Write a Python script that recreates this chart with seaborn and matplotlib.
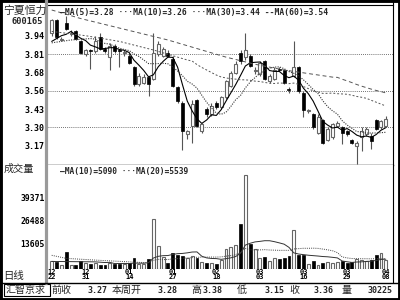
import numpy as np
import pandas as pd
import matplotlib
matplotlib.use("Agg")
import matplotlib.pyplot as plt
import seaborn as sns
from matplotlib.lines import Line2D
from matplotlib.patches import Rectangle

# ---------------- data ----------------
opens = [3.96, 4.05, 3.91, 4.03, 3.95, 3.97, 3.90, 3.81, 3.84, 3.83,
         3.93, 3.85, 3.79, 3.87, 3.84, 3.82, 3.80, 3.72, 3.60, 3.61,
         3.65, 3.64, 3.81, 3.80, 3.82, 3.78, 3.58, 3.47, 3.25, 3.31,
         3.49, 3.27, 3.43, 3.39, 3.47, 3.44, 3.51, 3.59, 3.68, 3.82,
         3.79, 3.80, 3.69, 3.67, 3.76, 3.62, 3.64, 3.71, 3.70, 3.57,
         3.66, 3.72, 3.54, 3.41, 3.39, 3.26, 3.35, 3.21, 3.23, 3.31,
         3.30, 3.27, 3.21, 3.17, 3.23, 3.25, 3.24, 3.35, 3.30, 3.31]
highs = [4.06, 4.06, 3.93, 4.08, 3.98, 3.98, 3.91, 3.85, 3.85, 3.94,
         3.96, 3.86, 3.89, 3.88, 3.85, 3.84, 3.82, 3.73, 3.68, 3.67,
         3.66, 3.96, 3.90, 3.86, 3.84, 3.80, 3.59, 3.48, 3.28, 3.49,
         3.50, 3.33, 3.44, 3.47, 3.48, 3.52, 3.63, 3.69, 3.76, 3.84,
         3.96, 3.81, 3.72, 3.76, 3.77, 3.67, 3.72, 3.72, 3.71, 3.58,
         3.90, 3.73, 3.55, 3.43, 3.40, 3.39, 3.36, 3.30, 3.33, 3.34,
         3.31, 3.28, 3.22, 3.20, 3.30, 3.30, 3.26, 3.36, 3.35, 3.38]
lows = [3.94, 3.92, 3.90, 3.98, 3.94, 3.91, 3.81, 3.80, 3.71, 3.82,
        3.84, 3.82, 3.70, 3.82, 3.72, 3.80, 3.74, 3.59, 3.59, 3.60,
        3.52, 3.63, 3.80, 3.79, 3.79, 3.58, 3.47, 3.14, 3.22, 3.19,
        3.30, 3.26, 3.37, 3.38, 3.43, 3.43, 3.50, 3.58, 3.67, 3.74,
        3.77, 3.72, 3.67, 3.66, 3.63, 3.61, 3.63, 3.69, 3.60, 3.54,
        3.65, 3.54, 3.37, 3.40, 3.29, 3.25, 3.18, 3.20, 3.22, 3.30,
        3.18, 3.24, 3.18, 3.04, 3.13, 3.24, 3.15, 3.28, 3.29, 3.30]
closes = [4.05, 3.93, 3.92, 3.99, 3.96, 3.92, 3.82, 3.84, 3.83, 3.90,
          3.85, 3.83, 3.87, 3.83, 3.835, 3.825, 3.75, 3.60, 3.66, 3.65,
          3.60, 3.82, 3.88, 3.85, 3.80, 3.59, 3.48, 3.27, 3.27, 3.46,
          3.31, 3.32, 3.39, 3.45, 3.44, 3.51, 3.62, 3.68, 3.74, 3.76,
          3.84, 3.73, 3.70, 3.75, 3.64, 3.66, 3.70, 3.70, 3.61, 3.56,
          3.72, 3.55, 3.42, 3.42, 3.30, 3.37, 3.19, 3.29, 3.32, 3.33,
          3.26, 3.25, 3.19, 3.19, 3.27, 3.29, 3.20, 3.29, 3.34, 3.36]
volumes = [4055, 3686, 2212, 9216, 2212, 2212, 4055, 3133, 2765, 3133,
           2212, 1843, 3133, 2580, 2580, 2580, 3133, 5898, 2580, 2580,
           5161, 27650, 12536, 6267, 3318, 8663, 7373, 7189, 5898, 7005,
           5898, 3686, 3318, 3133, 2580, 4608, 11060, 11797, 13272, 24514,
           51610, 13824, 10691, 6083, 6267, 4424, 5898, 5161, 6083, 6820,
           21197, 7373, 7373, 2765, 4055, 2212, 3133, 3686, 3133, 3686,
           4055, 3133, 3686, 5161, 4977, 4424, 4608, 7742, 8663, 4977]

ma5_head_x, ma5_head = [0, 1, 2, 3], [3.90, 3.92, 3.94, 3.95]
ma10_head_x, ma10_head = [0, 4, 8], [3.89, 3.91, 3.92]
ma30_head_x, ma30_head = [0, 7, 14, 21, 28], [3.97, 3.94, 3.90, 3.84, 3.77]
ma60_head_x = [0, 6, 12, 18, 24, 30, 36, 42, 48, 54, 58]
ma60_head = [4.12, 4.06, 4.01, 3.96, 3.91, 3.85, 3.79, 3.74, 3.70, 3.67, 3.65]
vma10_head_x, vma10_head = [0, 4, 8], [3900, 3800, 3700]
vma20_head_x, vma20_head = [0, 3, 10, 18], [7300, 5600, 4500, 3400]

date_idx = [0, 7, 16, 25, 34, 43, 52, 61, 69]
date_labels = ["12\n22", "12\n31", "01\n14", "01\n27", "02\n18",
               "03\n03", "03\n16", "03\n29", "04\n08"]
price_tick_labels = ["3.94", "3.81", "3.68", "3.56", "3.43", "3.30", "3.17"]
price_tick_hi, price_tick_lo = 3.94, 3.17
vol_ticks = [39371, 26488, 13605]

stock_name = "宁夏恒力"
stock_code = "600165"
price_legend = "—MA(5)=3.28 ···MA(10)=3.26 ···MA(30)=3.44 --MA(60)=3.54"
vol_legend = "—MA(10)=5090 ···MA(20)=5539"
bottom_labels = ["前收", "本周开", "高", "低", "收", "量"]
bottom_values = ["3.27", "3.28", "3.38", "3.15", "3.36", "30225"]

# ---------------- style ----------------
sns.set_theme(style="white")
MONO = ["DejaVu Sans Mono", "Noto Sans CJK SC"]
CJK = ["Noto Sans CJK SC", "DejaVu Sans"]
plt.rcParams["font.family"] = MONO

W, H = 400, 300
def fx(px):
    return px / W
def fy(py):
    return 1 - py / H

fig = plt.figure(figsize=(4, 3), dpi=100)
fig.patch.set_facecolor("white")

PL, PR = 47.5, 392.5
P_TOP, P_BOT = 5, 165
V_TOP, V_BOT = 165, 268.5
BAR0, STEP = 51.7, 4.842
PX_PER = 0.007          # price per pixel
TICK_Y = 35.7           # pixel row of 3.94

ax_p = fig.add_axes([fx(PL), fy(P_BOT), (PR - PL) / W, (P_BOT - P_TOP) / H])
ax_v = fig.add_axes([fx(PL), fy(V_BOT), (PR - PL) / W, (V_BOT - V_TOP) / H])

xlim = (-(BAR0 - PL) / STEP, (PR - BAR0) / STEP)
for ax in (ax_p, ax_v):
    ax.set_xlim(*xlim)
    ax.set_facecolor("white")
    for s in ax.spines.values():
        s.set_visible(False)

ax_p.set_ylim(price_tick_hi - (P_BOT - TICK_Y) * PX_PER,
              price_tick_hi + (TICK_Y - P_TOP) * PX_PER)
ax_v.set_ylim(0, (V_BOT - V_TOP) * 553)

# ---------------- candles ----------------
o = np.array(opens); c = np.array(closes)
h = np.array(highs); l = np.array(lows)
v = np.array(volumes)
x = np.arange(len(o))
up = c >= o
lo = np.minimum(o, c)
bh = np.maximum(np.abs(c - o), 0.004)

ax_p.vlines(x, l, h, color="#555555", lw=0.8, zorder=2)
ax_p.bar(x[up], bh[up], bottom=lo[up], width=0.62, facecolor="white",
         edgecolor="#666666", linewidth=0.8, zorder=3)
ax_p.bar(x[~up], bh[~up], bottom=lo[~up], width=0.62, facecolor="black",
         edgecolor="black", linewidth=0.5, zorder=3)

# grid lines on alternate ticks
ticks = np.linspace(price_tick_hi, price_tick_lo, len(price_tick_labels))
for t in ticks[1::2]:
    ax_p.axhline(t, color="#444444", lw=0.6, ls=(0, (1, 1.5)), zorder=1)
ax_p.set_yticks(ticks)
ax_p.set_yticklabels(price_tick_labels, fontsize=6, fontweight="bold")
ax_p.tick_params(axis="y", length=0, pad=1.8, colors="black")
ax_p.set_xticks([])


def ma_frame(values, window, head_x, head_y):
    s = pd.Series(values, dtype=float).rolling(window).mean()
    xs = list(head_x) + list(range(window - 1, len(values)))
    ys = list(head_y) + s.iloc[window - 1:].tolist()
    return pd.DataFrame({"bar": xs, "value": ys})


ma_specs = [
    (closes, 5, ma5_head_x, ma5_head, "black", "-", 0.8),
    (closes, 10, ma10_head_x, ma10_head, "#333333", (0, (1, 1.2)), 0.8),
    (closes, 30, ma30_head_x, ma30_head, "#555555", (0, (2, 2)), 0.7),
    (closes, 60, ma60_head_x, ma60_head, "#555555", (0, (4, 3)), 0.7),
]
for vals, w, hx, hy, col, ls, lw in ma_specs:
    df = ma_frame(vals, w, hx, hy)
    sns.lineplot(data=df, x="bar", y="value", ax=ax_p, color=col,
                 linestyle=ls, linewidth=lw, estimator=None, sort=False,
                 legend=False, zorder=4)
ax_p.set_xlabel(""); ax_p.set_ylabel("")

# top & bottom frame lines of price panel
ax_p.spines["top"].set_visible(True)
ax_p.spines["top"].set_color("black"); ax_p.spines["top"].set_linewidth(0.8)
ax_p.spines["bottom"].set_visible(True)
ax_p.spines["bottom"].set_color("black"); ax_p.spines["bottom"].set_linewidth(1.0)

# ---------------- volume ----------------
ax_v.bar(x[up], v[up], width=0.6, facecolor="white", edgecolor="#666666",
         linewidth=0.8, zorder=3)
ax_v.bar(x[~up], v[~up], width=0.6, facecolor="black", edgecolor="black",
         linewidth=0.5, zorder=3)
for vals, w, hx, hy, col, ls, lw in [
        (volumes, 10, vma10_head_x, vma10_head, "#333333", "-", 0.7),
        (volumes, 20, vma20_head_x, vma20_head, "#444444", (0, (1, 1.2)), 0.7)]:
    df = ma_frame(vals, w, hx, hy)
    sns.lineplot(data=df, x="bar", y="value", ax=ax_v, color=col,
                 linestyle=ls, linewidth=lw, estimator=None, sort=False,
                 legend=False, zorder=4)
ax_v.set_xlabel(""); ax_v.set_ylabel("")
ax_v.set_yticks(vol_ticks)
ax_v.set_yticklabels([str(t) for t in vol_ticks], fontsize=5.8, fontweight="bold")
ax_v.tick_params(axis="y", length=0, pad=1.8, colors="black")
ax_v.set_xticks(date_idx)
ax_v.set_xticklabels(date_labels, fontsize=5, fontweight="bold", linespacing=0.85)
ax_v.tick_params(axis="x", length=0, pad=0.3, colors="black")
ax_v.xaxis.set_zorder(6)

# ---------------- texts ----------------
fig.text(fx(60), fy(13), price_legend, fontsize=5.8, fontweight="bold",
         va="center", ha="left", family=MONO)
fig.text(fx(60), fy(171.5), vol_legend, fontsize=5.7, fontweight="bold",
         va="center", ha="left", family=MONO)
fig.text(fx(3.5), fy(10.5), stock_name, fontsize=7.8, va="center", ha="left",
         family=CJK)
fig.text(fx(42.5), fy(21.8), stock_code, fontsize=6.2, fontweight="bold",
         va="center", ha="right", family=MONO)
fig.text(fx(4), fy(168.5), "成交量", fontsize=7.3, va="center", ha="left", family=CJK)
fig.text(fx(3), fy(276), "日线", fontsize=7.5, va="center", ha="left", family=CJK)

# bottom info bar
fig.text(fx(6), fy(290), "汇智京求", fontsize=7.2, va="center", ha="left", family=CJK)
label_x = [52, 112, 191, 237, 289, 341]
value_x = [108, 178, 223, 285, 334, 393]
for txt, px in zip(bottom_labels, label_x):
    fig.text(fx(px), fy(290), txt, fontsize=7.2, va="center", ha="left", family=CJK)
for txt, px in zip(bottom_values, value_x):
    fig.text(fx(px), fy(290.5), txt, fontsize=6, fontweight="bold", va="center",
             ha="right", family=MONO)

# ---------------- frame lines ----------------
fig.add_artist(Line2D([fx(46.3)] * 2, [fy(0), fy(283)], color="#9a9a9a", lw=2.3,
                      transform=fig.transFigure))
fig.add_artist(Line2D([fx(393)] * 2, [fy(0), fy(283)], color="black", lw=0.8,
                      transform=fig.transFigure))
fig.add_artist(Line2D([0, 1], [fy(283)] * 2, color="black", lw=1.0,
                      transform=fig.transFigure))
fig.add_artist(Rectangle((fx(4), fy(296)), 46 / W, 12 / H, fill=False,
                         edgecolor="black", lw=0.8, transform=fig.transFigure))
fig.add_artist(Rectangle((0, 0), 1, 1, fill=False, edgecolor="black", lw=3.5,
                         transform=fig.transFigure))

fig.savefig("out.png", dpi=100, facecolor="white")
